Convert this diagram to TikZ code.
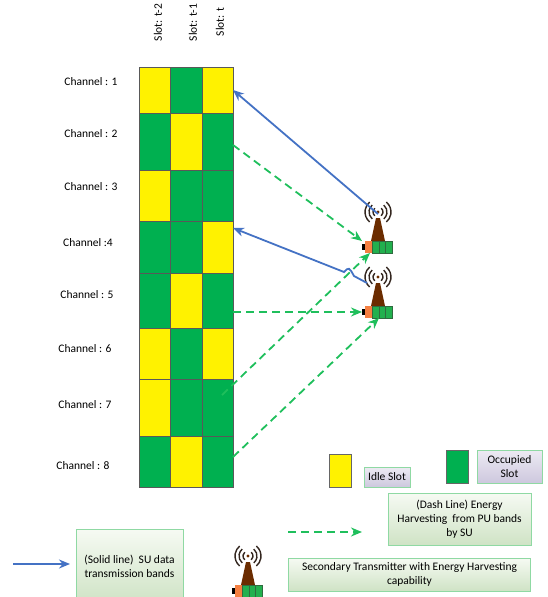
\documentclass[tikz,border=0pt]{standalone}
\usepackage{fontspec}
\setmainfont{Carlito}
\usetikzlibrary{arrows.meta}
\definecolor{busygreen}{HTML}{00B050}
\definecolor{dashgreen}{HTML}{1FBF5C}
\definecolor{lineblue}{HTML}{4472C4}
\definecolor{towerbrown}{HTML}{6B2C00}
\definecolor{waveblack}{HTML}{33261F}
\definecolor{boxedge}{HTML}{8FD9A3}
\definecolor{boxtop}{HTML}{F6FAF3}
\definecolor{boxbottom}{HTML}{CFE3C5}
\definecolor{purpletop}{HTML}{EDEAF3}
\definecolor{purplebottom}{HTML}{CDC8DE}
\definecolor{battgreen}{HTML}{22B04E}
\definecolor{battedge}{HTML}{2F6B3F}
\definecolor{battorange}{HTML}{F58042}
\tikzset{
  slotcell/.style={draw=black!65, line width=.6pt, inner sep=0pt, outer sep=0pt},
  idle/.style={slotcell, fill=yellow},
  busy/.style={slotcell, fill=busygreen},
  chlabel/.style={font=\fontsize{11.5}{13}\selectfont},
  slotlabel/.style={font=\fontsize{11.5}{13}\selectfont, rotate=90},
  notebox/.style={draw=boxedge, line width=1pt, top color=boxtop, bottom color=boxbottom, align=center, inner sep=0pt, font=\fontsize{11.5}{14}\selectfont},
  purplebox/.style={draw=boxedge, line width=1pt, top color=purpletop, bottom color=purplebottom, align=center, inner sep=0pt, font=\fontsize{11.5}{14}\selectfont},
  solidarrow/.style={draw=lineblue, line width=1.8pt, -{Stealth[length=11pt,width=9pt]}},
  dasharrow/.style={draw=dashgreen, line width=1.8pt, dash pattern=on 8pt off 5pt, -{Stealth[length=11pt,width=9pt]}}
}
% antenna on a battery, #1 = name, (#2,#3) = centre of the waves
\newcommand{\sutower}[3]{
  \begin{scope}[shift={(#2,#3)}]
    \coordinate (#1top) at (0,2);
    \foreach \rad in {5,9,13} {
      \draw[waveblack, line width=1.4pt] (-50:\rad) arc (-50:50:\rad);
      \draw[waveblack, line width=1.4pt] (130:\rad) arc (130:230:\rad);
    }
    \fill[towerbrown] (0,0) circle (1.6);
    \fill[towerbrown] (-2,6) -- (2,6) -- (7,29) -- (-7,29) -- cycle;
    \fill[black] (-16,32) rectangle (-13,38);
    \fill[battorange] (-13,29) rectangle (-6,41);
    \draw[battedge, fill=battgreen, line width=.7pt] (-6,29) rectangle (1,41);
    \draw[battedge, fill=battgreen, line width=.7pt] (1,29) rectangle (7.5,41);
    \draw[battedge, fill=battgreen, line width=.7pt] (7.5,29) rectangle (14,41);
    \coordinate (#1west) at (-16,29);
    \coordinate (#1south) at (0,41);
  \end{scope}
}

\begin{document}
\begin{tikzpicture}[x=1pt, y=-1pt]
    \useasboundingbox (0,0) rectangle (548,597);

    % slot grid
    \foreach \r/\cy/\h/\ca/\cb/\cc in {1/90/46/idle/busy/idle, 2/141.5/57/busy/idle/busy,
        3/195.5/51/idle/busy/busy, 4/247/52/busy/busy/idle, 5/300.5/55/busy/idle/busy,
        6/353.5/51/idle/busy/idle, 7/407.5/57/idle/busy/busy, 8/461.5/51/busy/idle/busy} {
      \node[\ca, minimum width=31pt, minimum height=\h pt] (c\r1) at (154.5,\cy) {};
      \node[\cb, minimum width=32pt, minimum height=\h pt] (c\r2) at (186,\cy) {};
      \node[\cc, minimum width=31pt, minimum height=\h pt] (c\r3) at (217.5,\cy) {};
    }

    \node[slotlabel] (slotA) at (158,22.5) {Slot: t-2};
    \node[slotlabel] (slotB) at (193,22.5) {Slot: t-1};
    \node[slotlabel] (slotC) at (220,22) {Slot: t};

    \node[chlabel] (ch1) at (91,82) {Channel : 1};
    \node[chlabel] (ch2) at (91,134) {Channel : 2};
    \node[chlabel] (ch3) at (91,187) {Channel : 3};
    \node[chlabel] (ch4) at (88,243) {Channel :4};
    \node[chlabel] (ch5) at (87,295) {Channel : 5};
    \node[chlabel] (ch6) at (85,349) {Channel : 6};
    \node[chlabel] (ch7) at (85,405) {Channel : 7};
    \node[chlabel] (ch8) at (83,466) {Channel : 8};

    \sutower{towA}{378}{212}
    \sutower{towB}{378}{277}
    \sutower{towC}{248}{556}

    % line jump of the lower solid arrow
    \coordinate (jumpa) at (354,276);
    \coordinate (jumpb) at (344,272);
    \coordinate (jumpc) at (349,267);
    \coordinate (towBfoot) at (367,283);
    \coordinate (startseven) at (222,395);

    \path [solidarrow] (towAtop) -- (c13.east);
    \path [solidarrow] (towBfoot) -- (jumpa) .. controls (jumpc) .. (jumpb) -- ([yshift=19pt]c43.east);
    \path [dasharrow] ([yshift=-3.5pt]c23.east) -- (towAwest);
    \path [dasharrow] ([yshift=-11.5pt]c53.east) -- ([yshift=-6pt]towBwest);
    \path [dasharrow] (startseven) -- ([xshift=-8pt]towAsouth);
    \path [dasharrow] ([yshift=4.5pt]c83.east) -- ([xshift=1pt]towBsouth);

    % legend
    \node[idle, draw=black!60, line width=1pt, minimum width=22pt, minimum height=33pt] (idleswatch) at (340,470.5) {};
    \node[purplebox, minimum width=46pt, minimum height=20pt] (idlebox) at (387,477) {Idle Slot};
    \node[busy, draw=black!60, line width=1pt, minimum width=22pt, minimum height=33pt] (busyswatch) at (457,466.5) {};
    \node[purplebox, minimum width=65pt, minimum height=33pt] (busybox) at (509.5,466.5) {Occupied\\Slot};
    \node[notebox, minimum width=143pt, minimum height=52pt] (dashbox) at (459.5,519) {(Dash Line) Energy\\Harvesting\ \ from PU bands\\by SU};
    \node[notebox, minimum width=242pt, minimum height=33pt] (towerbox) at (409.5,574.5) {Secondary Transmitter with Energy Harvesting\\capability};
    \node[notebox, minimum width=107pt, minimum height=74pt] (solidbox) at (129.5,566) {(Solid line)\ \ SU data\\transmission bands};

    \coordinate (dashstart) at (288,532);
    \coordinate (dashend) at (362,532);
    \coordinate (solidstart) at (13,564);
    \coordinate (solidend) at (70,564);
    \path [dasharrow] (dashstart) -- (dashend);
    \path [solidarrow] (solidstart) -- (solidend);
\end{tikzpicture}
\end{document}
